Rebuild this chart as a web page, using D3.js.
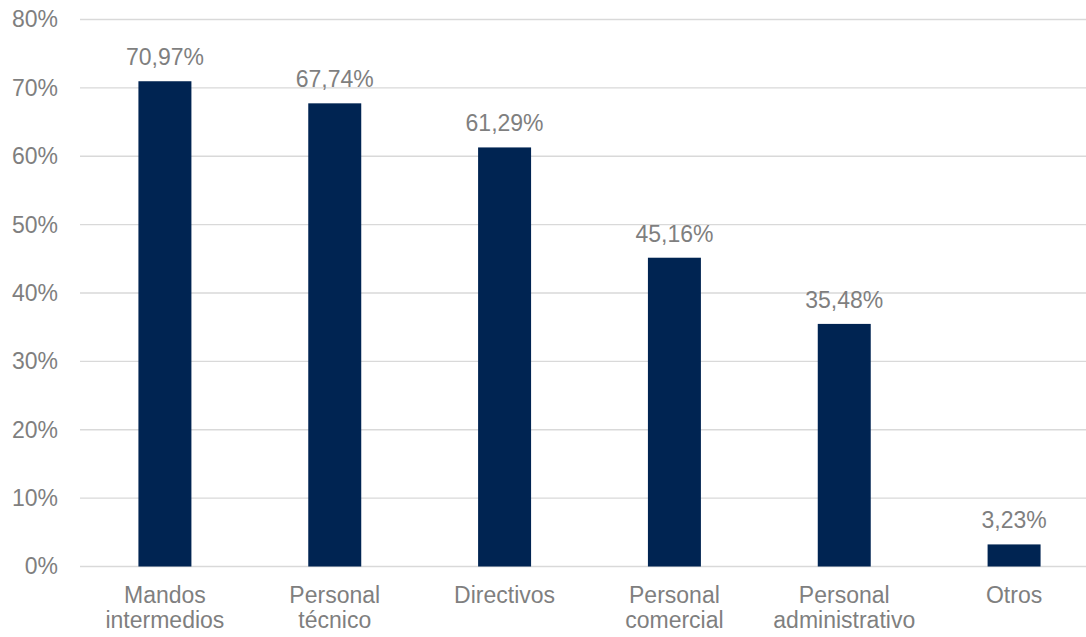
<!DOCTYPE html>
<html>
<head>
<meta charset="utf-8">
<script src="https://cdn.jsdelivr.net/npm/d3@7"></script>
<style>
  html, body { margin: 0; padding: 0; background: #fff; overflow: hidden; }
  text { font-family: "Liberation Sans", Arial, sans-serif; }
</style>
</head>
<body>
<div id="chart"></div>
<script>
// categories and values (percent)
var categories = [
  ["Mandos", "intermedios"],
  ["Personal", "técnico"],
  ["Directivos"],
  ["Personal", "comercial"],
  ["Personal", "administrativo"],
  ["Otros"]
];
var values = [70.97, 67.74, 61.29, 45.16, 35.48, 3.23];
var yTicks = [0, 10, 20, 30, 40, 50, 60, 70, 80];

var W = 1086, H = 637;
var mLeft = 80, mRight = 1099, mTop = 19.5, mBottom = 566.5;

var svg = d3.select("#chart")
  .append("svg")
  .attr("width", W)
  .attr("height", H);

var keys = categories.map(function(d) { return d.join(" "); });

var x = d3.scaleBand()
  .domain(keys)
  .range([mLeft, mRight])
  .paddingInner(0.688)
  .paddingOuter(0.344);

var y = d3.scaleLinear()
  .domain([0, 80])
  .range([mBottom, mTop]);

// gridlines
svg.append("g")
  .selectAll("line")
  .data(yTicks)
  .enter().append("line")
  .attr("x1", mLeft)
  .attr("x2", mRight)
  .attr("y1", function(d) { return y(d); })
  .attr("y2", function(d) { return y(d); })
  .attr("stroke", "#d9d9d9")
  .attr("stroke-width", 1.3);

// y axis labels
var yAxis = svg.append("g")
  .attr("transform", "translate(" + mLeft + ",0)")
  .call(d3.axisLeft(y).tickValues(yTicks).tickSize(0).tickPadding(22)
    .tickFormat(function(d) { return d + "%"; }));
yAxis.select(".domain").remove();
yAxis.selectAll("text")
  .attr("fill", "#7f7f7f")
  .style("font-size", "23px")
  .style("font-family", "'Liberation Sans', Arial, sans-serif");

// bars
svg.append("g")
  .selectAll("rect")
  .data(values)
  .enter().append("rect")
  .attr("x", function(d, i) { return x(keys[i]); })
  .attr("y", function(d) { return y(d); })
  .attr("width", x.bandwidth())
  .attr("height", function(d) { return y(0) - y(d); })
  .attr("fill", "#002452");

// value labels
svg.append("g")
  .selectAll("text")
  .data(values)
  .enter().append("text")
  .attr("x", function(d, i) { return x(keys[i]) + x.bandwidth() / 2; })
  .attr("y", function(d) { return y(d) - 16; })
  .attr("text-anchor", "middle")
  .attr("fill", "#7f7f7f")
  .style("font-size", "23px")
  .text(function(d) { return d.toFixed(2).replace(".", ",") + "%"; });

// category labels
var xl = svg.append("g")
  .selectAll("text")
  .data(categories)
  .enter().append("text")
  .attr("x", function(d, i) { return x(keys[i]) + x.bandwidth() / 2; })
  .attr("y", 603)
  .attr("text-anchor", "middle")
  .attr("fill", "#7f7f7f")
  .style("font-size", "23px");
xl.selectAll("tspan")
  .data(function(d) { return d; })
  .enter().append("tspan")
  .attr("x", function() { return d3.select(this.parentNode).attr("x"); })
  .attr("dy", function(d, i) { return i === 0 ? 0 : 25; })
  .text(function(d) { return d; });
</script>
</body>
</html>
